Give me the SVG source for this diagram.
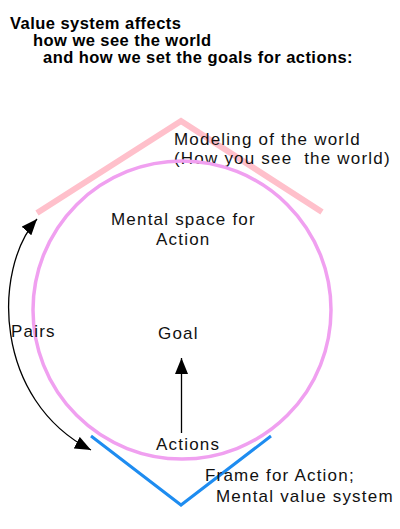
<svg xmlns="http://www.w3.org/2000/svg" width="400" height="529" viewBox="0 0 400 529">
<style>
.title{font-family:"Liberation Sans",Arial,sans-serif;font-weight:bold;font-size:16.5px;letter-spacing:0.45px;fill:#000}
.lbl{font-family:"Liberation Sans",Arial,sans-serif;font-size:17px;letter-spacing:1.2px;fill:#111;white-space:pre}
.conn{fill:none;stroke:#000;stroke-width:1.3}
</style>
<defs>
<marker id="ah" markerUnits="userSpaceOnUse" markerWidth="18" markerHeight="14" refX="16" refY="6.5" orient="auto-start-reverse">
<path d="M0,0 L16,6.5 L0,13 z" fill="#000"/>
</marker>
</defs>
<rect width="400" height="529" fill="#fff"/>
<g id="title">
<text class="title" x="10" y="29">Value system affects</text>
<text class="title" x="33" y="46">how we see the world</text>
<text class="title" x="43" y="63">and how we set the goals for actions:</text>
</g>
<g id="modeling">
<polyline points="37,213 181,121 322,212" fill="none" stroke="#ffc0cb" stroke-width="6"/>
<text class="lbl" x="174" y="145">Modeling of the world</text>
<text class="lbl" x="174" y="164">(How you see  the world)</text>
</g>
<g id="mental-space">
<circle cx="182" cy="310" r="149" fill="none" stroke="#f0a0f0" stroke-width="3.5"/>
<text class="lbl" x="111" y="225">Mental space for</text>
<text class="lbl" x="156" y="245">Action</text>
</g>
<g id="frame">
<polyline points="91,436 181,505 271,436" fill="none" stroke="#1e8cf0" stroke-width="3"/>
<text class="lbl" x="205" y="481">Frame for Action;</text>
<text class="lbl" x="216" y="502">Mental value system</text>
</g>
<g id="goal">
<text class="lbl" x="158" y="339">Goal</text>
</g>
<g id="actions">
<text class="lbl" x="156" y="450">Actions</text>
</g>
<g id="pairs">
<text class="lbl" x="11" y="337">Pairs</text>
</g>
<g id="connectors">
<path class="conn" d="M37,219 C-8,270 -6,400 91,450" marker-start="url(#ah)" marker-end="url(#ah)"/>
<path class="conn" d="M181.5,433 L181.5,358" marker-end="url(#ah)"/>
</g>
</svg>
